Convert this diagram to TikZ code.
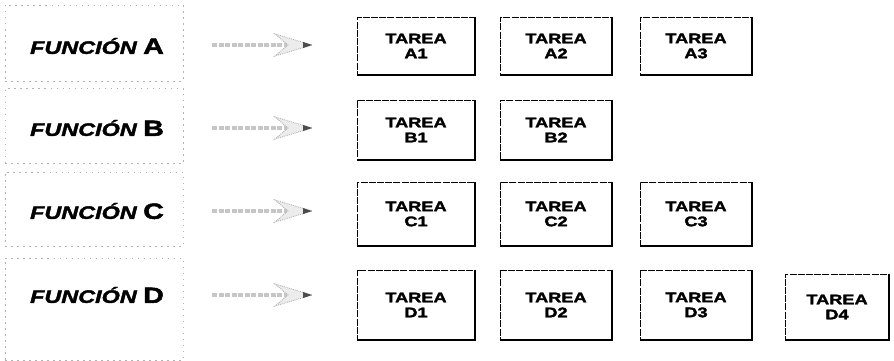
\documentclass[tikz,border=0pt]{standalone}
\usepackage{fontspec}
\setmainfont{Liberation Sans}
\newfontfamily\widefont[FakeStretch=1.3,FakeBold=2.2]{Liberation Sans}
\usetikzlibrary{calc}
\tikzset{
  funcbox/.style={draw=gray!60, line width=0.6pt, dash pattern=on 1.5pt off 4.5pt,
    minimum width=178pt, inner sep=0pt},
  functext/.style={font=\widefont\bfseries\itshape\fontsize{18}{18}\selectfont},
  taskbox/.style={draw=black, line width=0.7pt, dash pattern=on 7pt off 1.2pt,
    align=center, inner sep=0pt,
    font=\widefont\bfseries\fontsize{14}{15}\selectfont},
  shadowedge/.style={draw=black, line width=1.8pt},
  shaft/.style={draw=gray!45, line width=4pt, dash pattern=on 5pt off 1.5pt},
  head/.style={draw=gray!60, fill=gray!15, line width=0.9pt, densely dotted, line join=miter}
}
\newcommand\tarea[6]{%
  \node[taskbox, minimum width=#4pt, minimum height=#5pt] (#1) at (#2,#3) {TAREA\\#6};
  \draw[shadowedge] (#1.north east) -- (#1.south east) -- (#1.south west);
}
\newcommand\funcarrow[2]{%
  \coordinate (#1s) at (212,#2);
  \coordinate (#1n) at (288,#2);
  \coordinate (#1t) at (312,#2);
  \coordinate (#1u) at (275,#2-11);
  \coordinate (#1l) at (275,#2+11);
  \draw[shaft] (#1s) -- (#1n);
  \draw[head] (#1t) -- (#1u) -- (#1n) -- (#1l) -- cycle;
  \fill[black!70] (#1t) -- ($(#1t)+(-9,-3)$) -- ($(#1t)+(-9,3)$) -- cycle;
}
\begin{document}
\begin{tikzpicture}[x=1pt,y=-1pt]
\useasboundingbox (0,0) rectangle (894,361);
% function boxes
\node[funcbox, minimum height=76pt] (fA) at (94,43) {};
\node[functext] at (97,46) (tA) {FUNCIÓN {\upshape\fontsize{22}{22}\selectfont A}};
\node[funcbox, minimum height=75pt] (fB) at (94,126) {};
\node[functext] at (97,128) (tB) {FUNCIÓN {\upshape\fontsize{22}{22}\selectfont B}};
\node[funcbox, minimum height=74pt] (fC) at (94,209) {};
\node[functext] at (97,211) (tC) {FUNCIÓN {\upshape\fontsize{22}{22}\selectfont C}};
\node[funcbox, minimum height=102pt] (fD) at (94,309) {};
\node[functext] at (97,295) (tD) {FUNCIÓN {\upshape\fontsize{22}{22}\selectfont D}};
% arrows
\funcarrow{aA}{45}
\funcarrow{aB}{128}
\funcarrow{aC}{211}
\funcarrow{aD}{295}
% tasks
\tarea{A1}{416}{46}{117}{57}{A1}
\tarea{A2}{556}{46}{112}{57}{A2}
\tarea{A3}{696}{46}{112}{57}{A3}
\tarea{B1}{416}{130}{117}{60}{B1}
\tarea{B2}{556}{130}{112}{60}{B2}
\tarea{C1}{416}{214}{117}{63}{C1}
\tarea{C2}{556}{214}{112}{63}{C2}
\tarea{C3}{696}{214}{112}{63}{C3}
\tarea{D1}{416}{305}{117}{70}{D1}
\tarea{D2}{556}{305}{112}{70}{D2}
\tarea{D3}{696}{305}{112}{70}{D3}
\tarea{D4}{837}{307}{104}{66}{D4}
\end{tikzpicture}
\end{document}
